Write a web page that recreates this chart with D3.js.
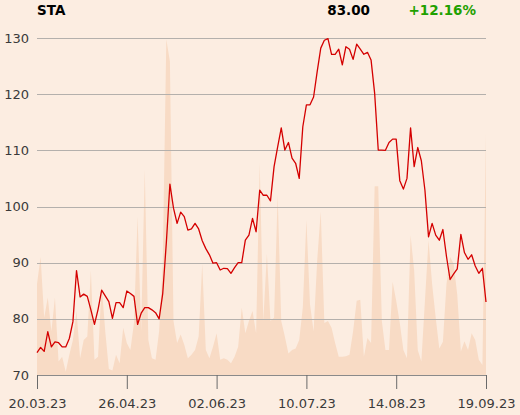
<!DOCTYPE html>
<html><head><meta charset="utf-8">
<script src="https://cdn.jsdelivr.net/npm/d3@7"></script>
<style>
html,body{margin:0;padding:0;background:#fcede1;}
svg{display:block;}
text{font-family:"DejaVu Sans",sans-serif;}
</style></head>
<body>
<script>
const symbol = "STA";
const lastLabel = "83.00";
const changeLabel = "+12.16%";
const tickLabels = ["20.03.23","26.04.23","02.06.23","10.07.23","14.08.23","19.09.23"];
const tickIndex = [0,25,50,75,100,125];
const yTicks = [70,80,90,100,110,120,130];
const prices = [74.0,74.9,74.2,77.7,75.0,75.9,75.75,75.0,75.0,76.5,
79.5,88.6,83.9,84.4,84.0,81.6,79.0,81.7,85.1,84.1,
83.05,80.1,82.9,82.9,82.0,84.95,84.5,84.0,79.0,81.0,
82.0,82.0,81.6,81.1,80.0,84.5,93.5,104.0,99.7,97.0,
99.0,98.2,95.8,96.0,97.0,96.0,93.9,92.5,91.4,89.9,
90.0,88.7,89.0,88.95,88.1,89.1,90.0,90.0,94.0,94.9,
97.9,95.5,102.9,102.0,102.0,101.0,107.1,110.6,114.0,110.05,
111.4,108.6,107.7,105.0,114.2,118.1,118.1,119.5,124.0,128.2,
129.6,129.9,127.1,127.1,128.0,125.2,128.45,128.0,126.2,128.9,
128.0,127.1,127.45,126.1,120.15,110.05,110.05,110.0,111.4,112.0,
112.0,104.6,103.1,105.0,114.0,107.1,110.5,108.15,102.9,94.6,
97.0,94.9,94.0,95.9,91.1,87.0,88.0,88.9,95.05,91.8,
90.6,91.4,89.4,88.1,89.0,83.0];
const volumes = [27,35,17,23,13,23,4,5.4,1,6,
10.4,19,5,10.4,11.4,31,4.5,5.4,26.7,13,
1.8,1.3,6,3.5,14,9.5,7.4,15.4,47,13,
61,10.4,5,4.5,13,33,99.6,93,16,9.5,
12,9,5,6,7.4,11.4,33,7.4,5,8.4,
12.4,4.5,5,4.5,3.5,5.4,8.4,20,12.4,16,
19,12.4,63,16,36,16,17,53.4,16,11.4,
6.4,7.4,7.9,10.4,20,46,21,13,34,48.5,
15.4,16,14,9.5,5.4,5.4,5.6,6,13,22,
22.3,5.4,11,9.5,56,56,16,7.4,7.4,27.7,
22,15.4,7.4,5,41.5,31,7.4,4,22,40,
27,17,7.9,9.9,27,35,33,23.8,7,10,
7.4,12.4,10.4,4.5,3,71.7];

const W=520,H=415;
const L=37,R=486,T=38,B=375;
const svg=d3.select("body").append("svg").attr("width",W).attr("height",H);
svg.append("rect").attr("width",W).attr("height",H).attr("fill","#fcede1");

const x=d3.scaleLinear().domain([0,prices.length-1]).range([L,R]);
const y=d3.scaleLinear().domain([70,130]).range([B,T]);
const yv=d3.scaleLinear().domain([0,100]).range([B,T]);

// volume area
svg.append("path").datum(volumes)
  .attr("fill","#f8dbc5")
  .attr("d",d3.area().x((d,i)=>x(i)).y0(B).y1(d=>yv(d)));

// grid
svg.append("g").selectAll("line").data(yTicks.filter(v=>v>70)).join("line")
  .attr("x1",L).attr("x2",R).attr("y1",d=>Math.round(y(d))+0.5).attr("y2",d=>Math.round(y(d))+0.5)
  .attr("stroke","#b4b0ac").attr("stroke-width",1);

// y labels
svg.append("g").selectAll("text").data(yTicks).join("text")
  .attr("x",29).attr("y",d=>y(d)+4.5).attr("text-anchor","end")
  .attr("font-size",13).attr("fill","#3a3a3a").text(d=>d);

// x axis
const xa=svg.append("g").attr("transform",`translate(0,${B})`)
  .call(d3.axisBottom(x).tickValues(tickIndex).tickFormat((d,i)=>tickLabels[i]).tickSize(14).tickPadding(10));
xa.select(".domain").attr("stroke","#8a8a8a");
xa.selectAll(".tick line").attr("stroke","#6a6a6a");
xa.selectAll(".tick text").attr("font-size",13).attr("fill","#3a3a3a").attr("font-family","DejaVu Sans, sans-serif");

// price line
svg.append("path").datum(prices)
  .attr("fill","none").attr("stroke","#d40000").attr("stroke-width",1.3).attr("stroke-linejoin","round")
  .attr("d",d3.line().x((d,i)=>x(i)).y(d=>y(d)));

// header
svg.append("text").attr("x",37).attr("y",15).attr("font-size",13.5).attr("font-weight","bold").attr("fill","#000").text(symbol);
svg.append("text").attr("x",370).attr("y",15).attr("text-anchor","end").attr("font-size",13.5).attr("font-weight","bold").attr("fill","#000").text(lastLabel);
svg.append("text").attr("x",476).attr("y",15).attr("text-anchor","end").attr("font-size",13.5).attr("font-weight","bold").attr("fill","#1fa000").text(changeLabel);
</script>
</body></html>
